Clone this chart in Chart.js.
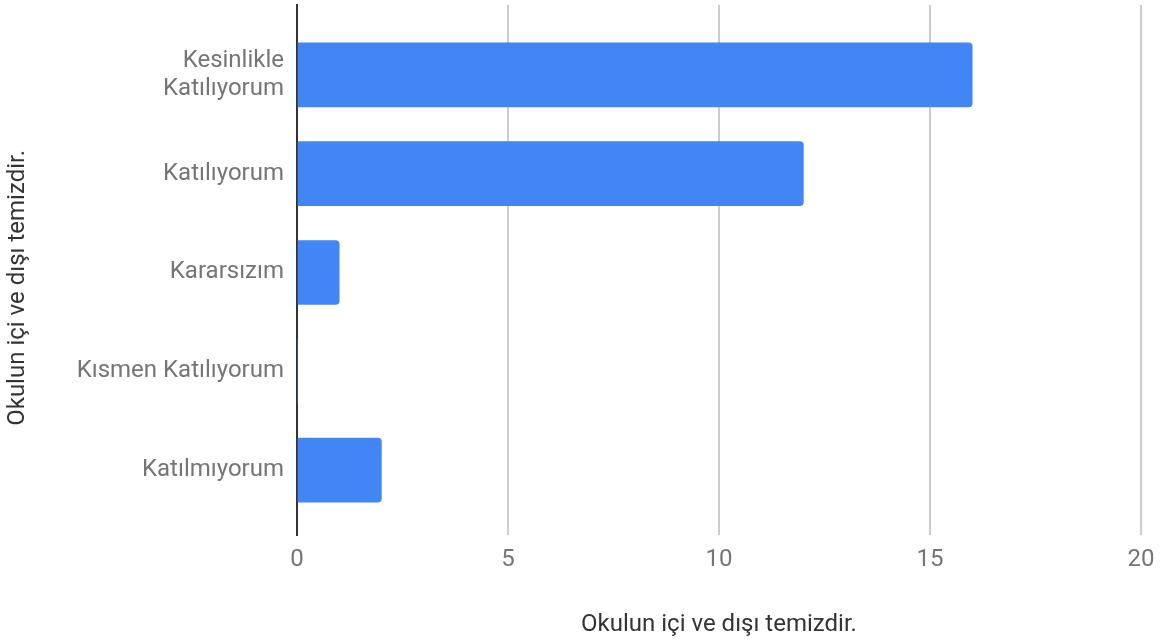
<!DOCTYPE html>
<html>
<head>
<meta charset="utf-8">
<script src="https://cdn.jsdelivr.net/npm/chart.js@4"></script>
<style>
  html, body { margin: 0; padding: 0; background: #fff; }
  #wrap { width: 1168px; height: 643px; }
</style>
</head>
<body>
<div id="wrap"><canvas id="chart" width="1168" height="643"></canvas></div>
<script>
const categories = [["Kesinlikle", "Katılıyorum"], "Katılıyorum", "Kararsızım", "Kısmen Katılıyorum", "Katılmıyorum"];
const values = [16, 12, 1, 0, 2];
const xTicks = [0, 5, 10, 15, 20];
const axisTitle = "Okulun içi ve dışı temizdir.";

const tickFont = { family: "Roboto", size: 24, lineHeight: 1.15 };
const titleFont = { family: "Roboto", size: 24 };

new Chart(document.getElementById("chart"), {
  type: "bar",
  data: {
    datasets: [{
      data: values.map((v, i) => ({ x: v, y: i })),
      backgroundColor: "#4285f4",
      borderWidth: 0,
      borderRadius: 4,
      borderSkipped: "start",
      barThickness: 64
    }]
  },
  options: {
    responsive: false,
    animation: false,
    indexAxis: "y",
    layout: { padding: { top: 5, right: 27, left: 0, bottom: 0 } },
    plugins: { legend: { display: false }, tooltip: { enabled: false } },
    scales: {
      x: {
        type: "linear",
        min: xTicks[0],
        max: xTicks[xTicks.length - 1],
        afterBuildTicks: s => { s.ticks = xTicks.map(v => ({ value: v })); },
        afterFit: s => { s.height = 108; s.paddingLeft = 0; s.paddingRight = 0; },
        grid: { color: "#cccccc", lineWidth: 2, drawTicks: false },
        border: { display: false },
        ticks: { color: "#757575", font: titleFont, padding: 11, maxRotation: 0 },
        title: { display: true, text: axisTitle, color: "#333", font: titleFont, padding: { top: 0, bottom: 4 } }
      },
      y: {
        type: "linear",
        reverse: true,
        offset: false,
        min: -0.707,
        max: 4.657,
        bounds: "data",
        afterBuildTicks: s => { s.ticks = categories.map((c, i) => ({ value: i })); },
        afterFit: s => { s.width = 297; s.paddingTop = 0; s.paddingBottom = 0; },
        grid: { display: false, drawTicks: false, offset: false },
        border: { display: true, color: "#333", width: 2 },
        ticks: { color: "#757575", font: tickFont, padding: 13, callback: v => categories[v] },
        // trailing spaces nudge the rotated title down a bit, like the original
        title: { display: true, text: axisTitle + "\u00a0\u00a0\u00a0\u00a0\u00a0\u00a0", color: "#333", font: titleFont, padding: { top: 4, bottom: 0 } }
      }
    }
  }
});
</script>
</body>
</html>
